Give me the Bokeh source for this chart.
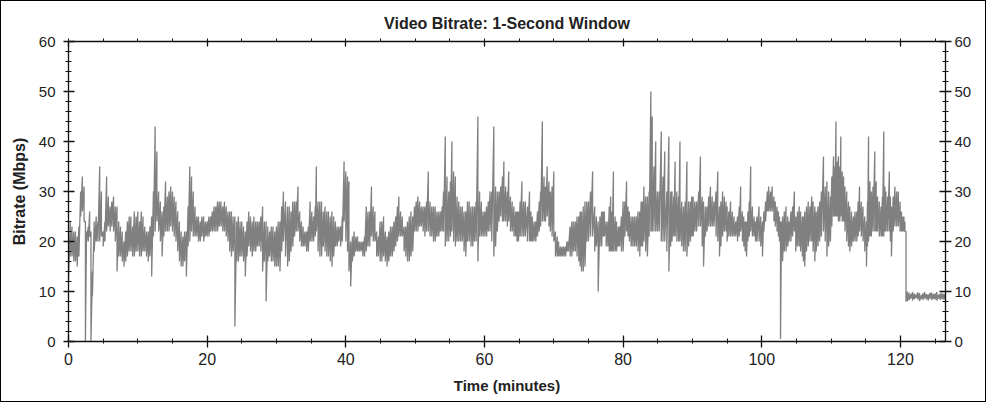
from bokeh.plotting import figure
from bokeh.models import Range1d, LinearAxis, SingleIntervalTicker, CustomJSTickFormatter
from bokeh.embed import file_html
from bokeh.resources import INLINE

TITLE = "Video Bitrate: 1-Second Window"
X_LABEL = "Time (minutes)"
Y_LABEL = "Bitrate (Mbps)"

# time (minutes) of each reading
t_min = [
    0.0, 0.25, 0.5, 0.75, 1.0, 1.25, 1.5, 1.75, 2.0, 2.25, 2.44, 2.6, 2.85, 3.05, 3.24, 3.45, 3.7, 4.0,
    4.25, 4.5, 4.75, 5.0, 5.25, 5.5, 5.75, 6.0, 6.25, 6.5, 6.75, 7.0, 7.25, 7.5, 7.75, 8.0, 8.25, 8.5,
    8.75, 9.0, 9.25, 9.5, 9.75, 10.0, 10.25, 10.5, 10.75, 11.0, 11.25, 11.5, 11.75, 12.0, 12.25, 12.5,
    12.75, 13.0, 13.25, 13.5, 13.75, 14.0, 14.25, 14.5, 14.75, 15.0, 15.25, 15.5, 15.75, 16.0, 16.25,
    16.5, 16.75, 17.0, 17.25, 17.5, 17.75, 18.0, 18.25, 18.5, 18.75, 19.0, 19.25, 19.5, 19.75, 20.0,
    20.25, 20.5, 20.75, 21.0, 21.25, 21.5, 21.75, 22.0, 22.25, 22.5, 22.75, 23.0, 23.25, 23.5, 23.75,
    24.0, 24.25, 24.5, 24.75, 25.0, 25.25, 25.5, 25.75, 26.0, 26.25, 26.5, 26.75, 27.0, 27.25, 27.5,
    27.75, 28.0, 28.25, 28.5, 28.75, 29.0, 29.25, 29.5, 29.75, 30.0, 30.25, 30.5, 30.75, 31.0,
    31.3, 31.6, 31.85, 32.1, 32.35, 32.6, 32.85, 33.1, 33.35, 33.6, 33.85, 34.1, 34.35, 34.6, 34.85,
    35.1, 35.35, 35.6, 35.75, 36.0, 36.25, 36.5, 36.75, 37.0, 37.25, 37.5, 37.75, 38.0, 38.25, 38.5,
    38.75, 39.0, 39.25, 39.5, 39.75, 40.0, 40.25, 40.45, 40.7, 40.95, 41.2, 41.45, 41.7, 41.95, 42.2,
    42.45, 42.7, 42.95, 43.2, 43.45, 43.7, 43.95, 44.2, 44.45, 44.7, 44.95, 45.2, 45.45, 45.7, 45.95,
    46.2, 46.45, 46.7, 46.95, 47.2, 47.45, 47.65, 47.9, 48.15, 48.4, 48.65, 48.9, 49.15, 49.4, 49.65,
    49.9, 50.15, 50.4, 50.65, 50.9, 51.15, 51.4, 51.65, 51.9, 52.15, 52.4, 52.65, 52.9, 53.15, 53.4,
    53.65, 53.9, 54.1, 54.35, 54.6, 54.85, 55.1, 55.3, 55.55, 55.8, 56.05, 56.3, 56.55, 56.8, 57.05,
    57.3, 57.55, 57.8, 58.05, 58.3, 58.55, 58.8, 59.05, 59.3, 59.55, 59.8, 60.05, 60.3, 60.55, 60.8,
    61.05, 61.35, 61.6, 61.85, 62.1, 62.35, 62.6, 62.8, 63.05,
    63.3, 63.5, 63.75, 64.0, 64.25, 64.5, 64.7, 64.9, 65.15, 65.4, 65.65, 65.9, 66.2, 66.5, 66.7,
    66.9, 67.15, 67.4, 67.65, 67.9, 68.1, 68.35, 68.6, 68.8, 69.05, 69.3, 69.5, 69.75, 70.0, 70.24,
    70.5, 70.7, 70.95, 71.2, 71.45, 71.7, 71.9, 72.1, 72.35, 72.6, 72.85, 73.1, 73.35, 73.6, 73.8,
    74.0, 74.25, 74.5, 74.75, 75.0, 75.3, 75.6, 75.9, 76.15, 76.4, 76.65, 76.9, 77.1, 77.3, 77.55,
    77.8, 78.0, 78.2, 78.4, 78.6, 78.85, 79.05, 79.3, 79.5, 79.75, 80.0, 80.25, 80.5, 80.7, 80.9,
    81.15, 81.4, 81.65, 81.9, 82.15, 82.4, 82.6, 82.8, 83.0, 83.25, 83.5, 83.75, 84.0, 84.2, 84.45,
    84.7, 84.95, 85.2, 85.5, 85.75, 86.0, 86.3, 86.6, 86.85, 87.05, 87.3, 87.5, 87.75, 88.0, 88.2,
    88.45, 88.7, 88.95, 89.2, 89.45, 89.7, 89.9, 90.1, 90.35, 90.6, 90.9, 91.15, 91.4, 91.6, 91.85,
    92.1, 92.35, 92.6, 92.85, 93.1, 93.4, 93.65, 93.9, 94.1, 94.35, 94.6, 94.85,
    95.0, 95.25, 95.5, 95.75, 96.0, 96.25, 96.5, 96.75, 96.95, 97.2, 97.4, 97.6, 97.8, 98.0, 98.2,
    98.4, 98.65, 98.9, 99.1, 99.3, 99.6, 99.85, 100.1, 100.3, 100.55, 100.8, 101.0, 101.25, 101.5,
    101.75, 101.95, 102.2, 102.4, 102.55, 102.7, 102.85, 103.0, 103.25, 103.5, 103.75, 103.95,
    104.2, 104.45, 104.7, 104.9, 105.15, 105.4, 105.6, 105.85, 106.0, 106.2, 106.45, 106.7, 106.95,
    107.2, 107.4, 107.65, 107.85, 108.1, 108.35, 108.6, 108.9, 109.15, 109.4, 109.65, 109.9,
    110.1, 110.35, 110.55, 110.7, 110.9, 111.05, 111.25, 111.4, 111.6, 111.8, 112.0, 112.25, 112.5,
    112.7, 112.95, 113.2, 113.45, 113.7, 113.9, 114.1, 114.35, 114.6, 114.85, 115.1, 115.25, 115.4,
    115.6, 115.8, 116.05, 116.3, 116.5, 116.7, 116.95, 117.2, 117.4, 117.6, 117.75, 117.9, 118.15,
    118.4, 118.55, 118.7, 118.95, 119.2, 119.45, 119.7, 119.95, 120.15, 120.35, 120.5, 120.65,
    120.8, 121.0,
    121.25, 121.5, 121.75, 122.0, 122.25, 122.5, 122.75, 123.0, 123.25, 123.5, 123.75, 124.0, 124.25,
    124.5, 124.75, 125.0, 125.25, 125.5, 125.75, 126.0, 126.25, 126.5,
]

# upper edge of the 1-second bitrate trace (Mbps)
hi_mbps = [
    21, 24, 23, 22, 22, 21, 23, 30, 33, 31, 24, 22, 23, 26, 22, 14, 24, 25,
    24, 35, 30, 22, 24, 33, 29, 27, 28, 29, 27, 27, 24, 23, 22, 20, 22, 24,
    25, 25, 23, 26, 25, 26, 24, 26, 25, 23, 22, 22, 23, 25, 30, 43,
    38, 30, 28, 26, 27, 32, 29, 30, 31, 30, 29, 28, 26, 24, 22,
    21, 22, 22, 27, 35, 33, 30, 27, 25, 25, 24, 25, 25, 24, 24,
    25, 25, 26, 27, 27, 28, 28, 28, 27, 28, 27, 26, 26, 26, 25,
    25, 24, 25, 24, 24, 23, 22, 24, 26, 25, 24, 25, 24, 24, 24,
    25, 27, 24, 24, 23, 22, 23, 23, 22, 23, 24, 24, 27, 30,
    28, 27, 27, 26, 28, 28, 28, 31, 26, 24, 23, 22, 22, 23, 28,
    26, 25, 27, 35, 28, 28, 28, 26, 27, 26, 26, 25, 26, 25, 24,
    23, 23, 23, 25, 36, 34, 33, 32, 20, 21, 22, 21, 21, 20, 20,
    20, 21, 27, 26, 26, 31, 27, 26, 22, 21, 24, 24, 25, 22, 21,
    22, 23, 23, 24, 25, 27, 29, 26, 25, 23, 23, 24, 25, 26, 25,
    27, 28, 29, 28, 27, 27, 27, 28, 34, 28, 27, 27, 27, 26, 26,
    26, 27, 30, 41, 33, 30, 32, 40, 34, 33, 29, 28, 27, 27, 26,
    26, 28, 28, 27, 27, 27, 28, 45, 30, 28, 26, 26, 27, 28, 30,
    30, 43, 31, 30, 30, 31, 33, 36, 31,
    30, 34, 29, 28, 27, 26, 26, 26, 28, 32, 28, 28, 27, 30, 26,
    25, 24, 24, 26, 28, 30, 44, 33, 31, 35, 32, 30, 31, 34, 22,
    21, 20, 19, 19, 19, 19, 20, 20, 23, 24, 24, 24, 25, 25, 26,
    26, 27, 28, 28, 28, 30, 34, 27, 25, 24, 25, 26, 26, 26, 24,
    24, 27, 29, 26, 34, 25, 24, 23, 23, 25, 28, 28, 32, 27, 26,
    25, 25, 25, 25, 26, 26, 28, 28, 31, 29, 29, 30, 50, 45, 35,
    40, 30, 30, 42, 33, 38, 30, 41, 30, 30, 29, 36, 30, 29, 40,
    28, 27, 28, 36, 28, 28, 29, 29, 28, 28, 30, 37, 29, 28, 27,
    27, 29, 31, 29, 28, 30, 34, 27, 28, 30, 29, 28,
    27, 26, 28, 26, 25, 24, 25, 27, 31, 26, 25, 24, 24, 26, 28,
    35, 27, 25, 24, 25, 27, 25, 24, 26, 28, 30, 31, 30, 31,
    29, 28, 27, 26, 25, 24, 24, 25, 26, 27, 25, 24,
    26, 27, 30, 25, 26, 27, 26, 25, 25, 26, 27, 28, 27,
    29, 28, 27, 26, 27, 28, 30, 37, 31, 32, 30, 29,
    33, 37, 35, 44, 36, 37, 35, 41, 34, 33, 31, 30, 28,
    27, 26, 25, 26, 26, 28, 31, 28, 27, 25, 24, 28, 41,
    32, 30, 31, 38, 32, 29, 28, 27, 29, 42, 31, 30, 29,
    34, 29, 27, 29, 31, 30, 30, 28, 26, 25, 25, 24,
    22, 10,
    9.8, 9.5, 9.9, 9.6, 9.4, 9.8, 9.7, 9.3, 9.6, 9.9, 9.5, 9.4, 9.7,
    9.8, 9.5, 9.6, 9.9, 9.4, 9.6, 9.7, 9.5, 9.6,
]

# lower edge of the 1-second bitrate trace (Mbps)
lo_mbps = [
    12, 17, 17, 16, 16, 15, 17, 25, 26, 24, 0, 20, 20, 21, 0, 9, 18, 20,
    20, 20, 21, 19, 20, 22, 23, 22, 23, 22, 20, 14, 17, 17, 16, 15, 16, 17,
    18, 18, 17, 17, 18, 18, 17, 17, 18, 18, 17, 16, 17, 13, 21, 22,
    24, 22, 20, 17, 21, 22, 22, 22, 23, 22, 21, 20, 18, 16, 15,
    15, 16, 13, 19, 20, 22, 21, 21, 21, 20, 20, 21, 20, 21, 21,
    21, 22, 22, 22, 22, 22, 23, 23, 22, 22, 21, 20, 18, 17, 18,
    3, 16, 16, 17, 17, 16, 13, 17, 19, 18, 17, 18, 18, 19, 19,
    18, 14, 16, 8, 16, 17, 16, 16, 15, 15, 15, 14, 18, 20,
    17, 15, 16, 18, 19, 21, 22, 22, 20, 19, 19, 19, 18, 18, 20,
    20, 20, 21, 22, 18, 17, 17, 19, 18, 17, 17, 16, 15, 17, 19,
    19, 20, 19, 20, 24, 20, 18, 14, 11, 16, 17, 18, 18, 18, 18,
    17, 17, 18, 19, 19, 21, 20, 20, 17, 17, 16, 16, 17, 16, 15,
    16, 17, 17, 18, 19, 20, 21, 21, 21, 18, 17, 16, 16, 17, 18,
    22, 22, 22, 23, 23, 22, 21, 22, 22, 21, 21, 20, 20, 21, 21,
    22, 22, 22, 19, 20, 20, 21, 22, 20, 19, 20, 20, 20, 20, 18,
    17, 20, 20, 19, 19, 20, 20, 16, 21, 21, 21, 21, 21, 22, 22,
    20, 17, 19, 22, 24, 25, 24, 24, 24,
    23, 24, 22, 22, 21, 21, 20, 20, 21, 21, 21, 21, 20, 20, 20,
    20, 20, 20, 21, 22, 23, 24, 24, 24, 25, 23, 22, 21, 20, 17,
    17, 17, 17, 17, 17, 17, 18, 18, 17, 17, 18, 18, 17, 16, 15,
    14, 14, 15, 20, 20, 21, 21, 18, 19, 10, 19, 19, 21, 21, 19,
    19, 18, 18, 18, 18, 18, 18, 19, 19, 18, 18, 21, 22, 21, 20,
    19, 19, 19, 19, 18, 17, 19, 19, 20, 18, 17, 21, 22, 22, 22,
    22, 22, 22, 20, 20, 20, 18, 14, 19, 20, 21, 21, 20, 20, 20,
    19, 18, 18, 17, 19, 20, 21, 21, 22, 22, 23, 23, 19, 15, 21,
    22, 23, 23, 23, 23, 21, 20, 17, 19, 21, 22, 22,
    20, 21, 21, 21, 21, 21, 20, 21, 22, 20, 19, 18, 17, 20, 21,
    22, 21, 21, 20, 20, 20, 19, 17, 22, 24, 26, 26, 26, 26,
    24, 23, 22, 21, 20, 0.5, 17, 16, 18, 18, 19, 20,
    20, 21, 22, 18, 19, 19, 18, 17, 16, 15, 18, 19, 20,
    20, 18, 16, 18, 19, 20, 21, 22, 20, 17, 19, 20,
    23, 25, 25, 25, 25, 24, 24, 25, 24, 24, 22, 20, 19,
    18, 19, 20, 20, 20, 21, 22, 21, 20, 18, 15, 19, 20,
    21, 21, 22, 22, 22, 22, 21, 21, 21, 21, 22, 22, 22,
    22, 20, 17, 22, 23, 23, 23, 22, 22, 22, 22, 22,
    8, 8,
    8.3, 8.6, 8.2, 8.5, 8.7, 8.4, 8.1, 8.5, 8.3, 8.6, 8.4, 8.2, 8.6,
    8.3, 8.5, 8.4, 8.2, 8.6, 8.3, 8.5, 8.4, 7.5,
]

assert len(t_min) == len(hi_mbps) == len(lo_mbps), (len(t_min), len(hi_mbps), len(lo_mbps))

x_ticks_step = 20
y_ticks_step = 10

# dense trace: each reading drawn from its upper to its lower edge, then on to the next upper edge
xs, ys = [], []
for t, h, l in zip(t_min, hi_mbps, lo_mbps):
    xs += [t, t]
    ys += [h, l]

FONT = "'Liberation Sans', Arial, sans-serif"

p = figure(
    width=986, height=402,
    min_border_left=67, min_border_right=42, min_border_top=40, min_border_bottom=62,
    x_range=Range1d(0, 126.5), y_range=Range1d(0, 60),
    output_backend="svg", toolbar_location=None,
    background_fill_color="white", border_fill_color="white",
)
p.styles = {"border": "1px solid #000000"}
p.outline_line_color = None
p.xgrid.visible = False
p.ygrid.visible = False

p.title.text = TITLE
p.title.align = "center"
p.title.text_font = FONT
p.title.text_font_size = "16px"
p.title.text_font_style = "bold"
p.title.text_color = "#222222"
p.title.standoff = 14

p.line(xs, ys, line_color="#808080", line_width=1.3)

def style_axis(ax):
    ax.axis_line_color = "#111111"
    ax.axis_line_width = 1.3
    ax.major_tick_line_color = "#111111"
    ax.minor_tick_line_color = "#111111"
    ax.major_tick_line_width = 1.3
    ax.minor_tick_line_width = 1
    ax.major_label_text_color = "#222222"
    ax.major_label_text_font = FONT
    ax.major_label_text_font_size = "15px"

# bottom x axis
xa = p.xaxis[0]
xa.ticker = SingleIntervalTicker(interval=x_ticks_step, num_minor_ticks=4)
style_axis(xa)
xa.major_label_text_font_size = "16px"
xa.major_tick_in = 6
xa.major_tick_out = 6
xa.minor_tick_in = 3
xa.minor_tick_out = 2
xa.major_label_standoff = 5
xa.axis_label = X_LABEL
xa.axis_label_text_font = FONT
xa.axis_label_text_font_size = "15px"
xa.axis_label_text_font_style = "bold"
xa.axis_label_text_color = "#222222"
xa.axis_label_standoff = 9

# left y axis
ya = p.yaxis[0]
ya.ticker = SingleIntervalTicker(interval=y_ticks_step, num_minor_ticks=5)
style_axis(ya)
ya.major_tick_in = 6
ya.major_tick_out = 5
ya.minor_tick_in = 3
ya.minor_tick_out = 3
ya.major_label_standoff = 8
ya.axis_label = Y_LABEL
ya.axis_label_text_font = FONT
ya.axis_label_text_font_size = "16px"
ya.axis_label_text_font_style = "bold"
ya.axis_label_text_color = "#222222"
ya.axis_label_standoff = 8

# right y axis
ra = LinearAxis(ticker=SingleIntervalTicker(interval=y_ticks_step, num_minor_ticks=5))
style_axis(ra)
ra.major_tick_in = 6
ra.major_tick_out = 6
ra.minor_tick_in = 3
ra.minor_tick_out = 3
ra.major_label_standoff = 3
p.add_layout(ra, "right")

# top x axis (ticks only, no labels)
ta = LinearAxis(ticker=SingleIntervalTicker(interval=x_ticks_step, num_minor_ticks=4),
                formatter=CustomJSTickFormatter(code="return '';"))
style_axis(ta)
ta.major_label_standoff = 0
ta.major_tick_in = 5
ta.major_tick_out = 0
ta.minor_tick_in = 0
ta.minor_tick_out = 3
p.add_layout(ta, "above")

open("out.html", "w").write(file_html(p, INLINE))
